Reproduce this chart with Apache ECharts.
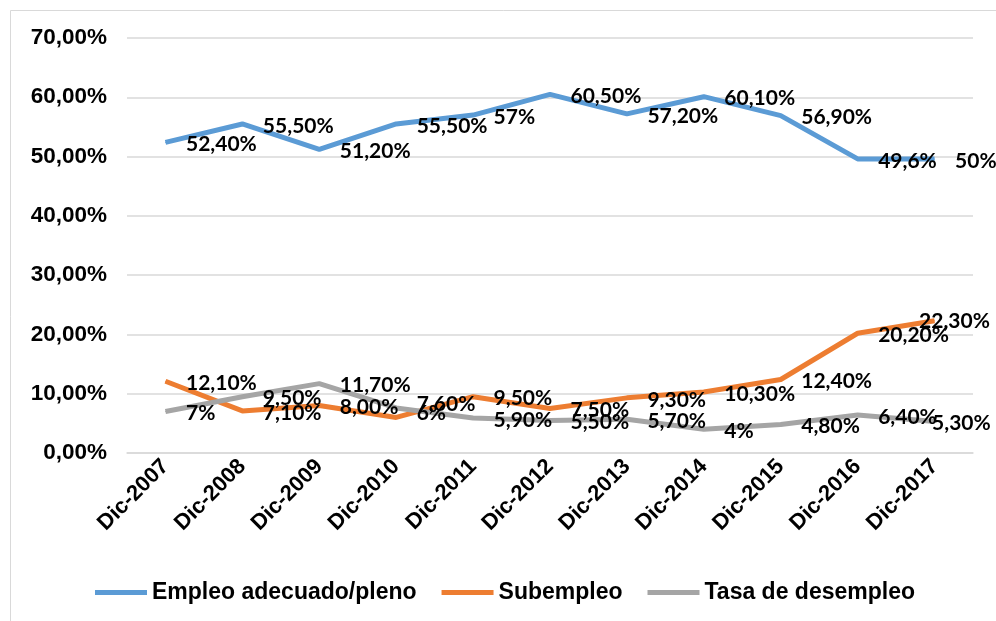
<!DOCTYPE html>
<html>
<head>
<meta charset="utf-8">
<title>Empleo</title>
<script src="https://cdn.jsdelivr.net/npm/echarts@6/dist/echarts.min.js"></script>
<style>
  html, body { margin: 0; padding: 0; background: #fff; }
  #chart { width: 996px; height: 621px; }
</style>
</head>
<body>
<div id="chart"></div>
<script>
// datos del grafico
const categorias = ['Dic-2007', 'Dic-2008', 'Dic-2009', 'Dic-2010', 'Dic-2011', 'Dic-2012',
  'Dic-2013', 'Dic-2014', 'Dic-2015', 'Dic-2016', 'Dic-2017']
const empleoAdecuado = [52.4, 55.5, 51.2, 55.5, 57, 60.5, 57.2, 60.1, 56.9, 49.6, 49.6]
const subempleo = [12.1, 7.1, 8.0, 6.0, 9.5, 7.5, 9.3, 10.3, 12.4, 20.2, 22.3]
const desempleo = [7, 9.5, 11.7, 7.6, 5.9, 5.5, 5.7, 4, 4.8, 6.4, 5.3]
// textos de las etiquetas tal como aparecen
const etiquetasEmpleo = ['52,40%', '55,50%', '51,20%', '55,50%', '57%', '60,50%', '57,20%', '60,10%', '56,90%', '49,6%', '50%']
const etiquetasSub = ['12,10%', '7,10%', '8,00%', '6%', '9,50%', '7,50%', '9,30%', '10,30%', '12,40%', '20,20%', '22,30%']
const etiquetasDes = ['7%', '9,50%', '11,70%', '7,60%', '5,90%', '5,50%', '5,70%', '4%', '4,80%', '6,40%', '5,30%']
const ticksY = [0, 10, 20, 30, 40, 50, 60, 70]

const chart = echarts.init(document.getElementById('chart'))

// arma los puntos con su etiqueta; algunas etiquetas se corren para que quepan
function puntos(valores, textos, ajustes) {
  return valores.map((v, i) => {
    const p = { value: v, label: { formatter: textos[i] } }
    if (ajustes && ajustes[i]) p.label.offset = ajustes[i]
    return p
  })
}

function serie(nombre, color, valores, textos, ajustes) {
  return {
    name: nombre,
    type: 'line',
    data: puntos(valores, textos, ajustes),
    symbol: 'circle',
    symbolSize: 1,
    lineStyle: { color: color, width: 5 },
    itemStyle: { color: color },
    label: {
      show: true,
      position: 'right',
      distance: 20,
      offset: [0, 2],
      color: '#000',
      fontFamily: 'Lato',
      fontWeight: 'bold',
      fontSize: 21
    },
    emphasis: { disabled: true },
    animation: false
  }
}

const option = {
  backgroundColor: '#fff',
  graphic: [{
    type: 'rect',
    shape: { x: 10.5, y: 10.5, width: 1100, height: 800 },
    style: { fill: 'none', stroke: '#d9d9d9', lineWidth: 1 },
    silent: true
  }],
  grid: { left: 127, right: 23, top: 38, bottom: 168 },
  legend: {
    left: 90,
    top: 576,
    icon: 'rect',
    itemWidth: 52,
    itemHeight: 5,
    itemGap: 25,
    textStyle: { color: '#000', fontFamily: 'Liberation Sans', fontWeight: 'bold', fontSize: 23 },
    data: ['Empleo adecuado/pleno', 'Subempleo', 'Tasa de desempleo']
  },
  xAxis: {
    type: 'category',
    data: categorias,
    boundaryGap: true,
    axisLine: { show: true, lineStyle: { color: '#d9d9d9', width: 1.5 } },
    axisTick: { show: false },
    axisLabel: {
      rotate: 45,
      margin: 10,
      color: '#000',
      fontFamily: 'Liberation Sans',
      fontWeight: 'bold',
      fontSize: 22
    }
  },
  yAxis: {
    type: 'value',
    min: ticksY[0],
    max: ticksY[ticksY.length - 1],
    interval: 10,
    axisLine: { show: false },
    axisTick: { show: false },
    splitLine: { lineStyle: { color: '#d9d9d9', width: 1.5 } },
    axisLabel: {
      margin: 20,
      color: '#000',
      fontFamily: 'Liberation Sans',
      fontWeight: 'bold',
      fontSize: 22.5,
      formatter: v => v.toFixed(2).replace('.', ',') + '%'
    }
  },
  series: [
    serie('Empleo adecuado/pleno', '#5b9bd5', empleoAdecuado, etiquetasEmpleo),
    serie('Subempleo', '#ed7d31', subempleo, etiquetasSub, { 3: [0, -4], 10: [-36, 0] }),
    serie('Tasa de desempleo', '#a5a5a5', desempleo, etiquetasDes, { 3: [0, -4], 10: [-23, 2] })
  ]
}

chart.setOption(option)
</script>
</body>
</html>
